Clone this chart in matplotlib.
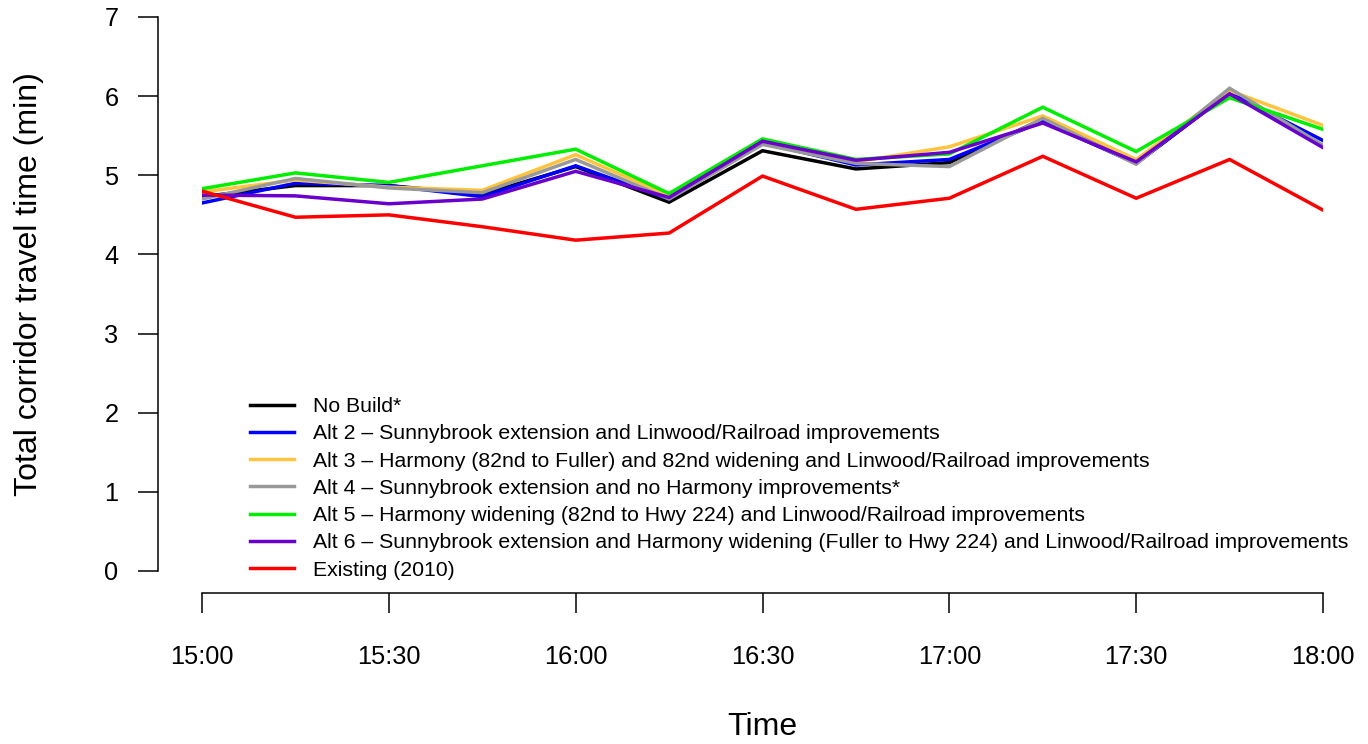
import matplotlib
matplotlib.use("Agg")
import matplotlib.pyplot as plt

plt.rcParams['font.family'] = ['Liberation Sans', 'DejaVu Sans']

# minutes after 15:00, one reading every 15 min
minutes = [0, 15, 30, 45, 60, 75, 90, 105, 120, 135, 150, 165, 180]
tick_minutes = [0, 30, 60, 90, 120, 150, 180]
tick_labels = ["15:00", "15:30", "16:00", "16:30", "17:00", "17:30", "18:00"]

no_build = [4.73, 4.87, 4.87, 4.76, 5.11, 4.66, 5.31, 5.08, 5.16, 5.71, 5.15, 6.05, 5.37]
alt2 = [4.65, 4.90, 4.87, 4.73, 5.12, 4.70, 5.41, 5.13, 5.20, 5.68, 5.15, 6.04, 5.44]
alt3 = [4.79, 4.94, 4.85, 4.81, 5.26, 4.74, 5.42, 5.17, 5.36, 5.75, 5.20, 6.07, 5.63]
alt4 = [4.70, 4.96, 4.84, 4.78, 5.20, 4.70, 5.39, 5.15, 5.11, 5.72, 5.14, 6.10, 5.38]
alt5 = [4.83, 5.03, 4.91, 5.12, 5.33, 4.77, 5.46, 5.20, 5.27, 5.86, 5.30, 5.98, 5.58]
alt6 = [4.75, 4.74, 4.64, 4.70, 5.05, 4.72, 5.43, 5.19, 5.29, 5.66, 5.17, 6.03, 5.35]
existing = [4.80, 4.47, 4.50, 4.35, 4.18, 4.27, 4.99, 4.57, 4.71, 5.24, 4.71, 5.20, 4.56]

series = [
    ("No Build*", no_build, "black"),
    ("Alt 2 \u2013 Sunnybrook extension and Linwood/Railroad improvements", alt2, "#0000FF"),
    ("Alt 3 \u2013 Harmony (82nd to Fuller) and 82nd widening and Linwood/Railroad improvements", alt3, "#FFC43D"),
    ("Alt 4 \u2013 Sunnybrook extension and no Harmony improvements*", alt4, "#999999"),
    ("Alt 5 \u2013 Harmony widening (82nd to Hwy 224) and Linwood/Railroad improvements", alt5, "#00EE00"),
    ("Alt 6 \u2013 Sunnybrook extension and Harmony widening (Fuller to Hwy 224) and Linwood/Railroad improvements", alt6, "#6A00CC"),
    ("Existing (2010)", existing, "#FF0000"),
]

W, H = 1368, 744
fig = plt.figure(figsize=(W / 100, H / 100), dpi=100)
ax = fig.add_axes([202 / W, 1 - 571 / H, (1323 - 202) / W, (571 - 17) / H])

for name, vals, col in series:
    ax.plot(minutes, vals, color=col, lw=2.5, label=name, solid_joinstyle="miter")

ax.set_xlim(0, 180)
ax.set_ylim(0, 7)

# R-style detached axes
for s in ["top", "right"]:
    ax.spines[s].set_visible(False)
ax.spines["left"].set_position(("outward", 44 * 0.72))
ax.spines["bottom"].set_position(("outward", 22 * 0.72))
ax.spines["left"].set_bounds(0, 7)
ax.spines["bottom"].set_bounds(0, 180)
for s in ["left", "bottom"]:
    ax.spines[s].set_linewidth(1.1)

ax.set_xticks(tick_minutes)
ax.set_xticklabels(tick_labels)
ax.set_yticks(range(0, 8))
ax.tick_params(axis="y", length=14.4, width=1.1, pad=14, labelsize=18.3)
ax.tick_params(axis="x", length=14.4, width=1.1, pad=23, labelsize=18.3)

fig.text(762 / W, 1 - 727 / H, "Time", ha="center", va="center", fontsize=23)
fig.text(29 / W, 1 - 284 / H, "Total corridor travel time (min)", ha="center",
         va="center", rotation=90, fontsize=23)

ax.legend(loc="upper left", bbox_to_anchor=(250 / W, 1 - 397 / H),
          bbox_transform=fig.transFigure, frameon=False, fontsize=15.3,
          borderpad=0, borderaxespad=0, handlelength=2.05, handletextpad=0.9,
          labelspacing=0.39)

fig.savefig("out.png", dpi=100)
